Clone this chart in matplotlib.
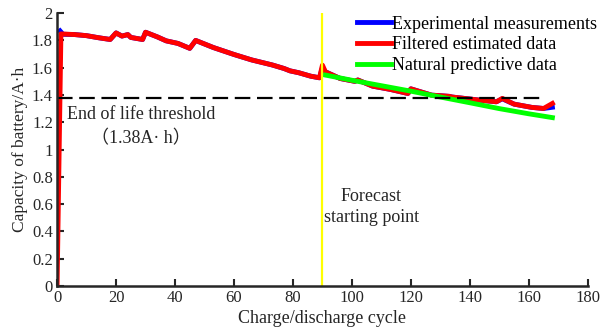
import matplotlib
matplotlib.use("Agg")
import matplotlib.pyplot as plt

plt.rcParams['font.family'] = ['Liberation Serif', 'Noto Sans CJK SC', 'DejaVu Sans']
plt.rcParams['font.size'] = 13

# values
cycles = [1, 2, 6, 10, 14, 18, 20, 22, 24, 25, 29, 30, 34, 37, 41, 45, 47, 53, 60, 66,
          73, 77, 79, 82, 86, 89, 90, 91, 96, 101, 102, 107, 113, 119, 120, 127, 133, 134,
          143, 149, 151, 155, 161, 165, 168]
measured = [1.87, 1.845, 1.843, 1.835, 1.82, 1.807, 1.855, 1.832, 1.843, 1.822, 1.807, 1.86,
            1.826, 1.797, 1.778, 1.742, 1.80, 1.748, 1.697, 1.657, 1.62, 1.594, 1.577, 1.563,
            1.538, 1.526, 1.60, 1.57, 1.521, 1.50, 1.51, 1.465, 1.441, 1.411, 1.445, 1.399,
            1.39, 1.385, 1.363, 1.35, 1.372, 1.333, 1.309, 1.301, 1.31]
filt_cycles = [0, 1.3, 6, 10, 14, 18, 20, 22, 24, 25, 29, 30, 34, 37, 41, 45, 47, 53, 60, 66,
               73, 77, 79, 82, 86, 89, 90, 91, 96, 101, 102, 107, 113, 119, 120, 127, 133, 134,
               143, 149, 151, 155, 161, 165, 168]
filtered = [0.0, 1.848, 1.843, 1.835, 1.82, 1.807, 1.855, 1.832, 1.843, 1.822, 1.807, 1.86,
            1.826, 1.797, 1.778, 1.742, 1.80, 1.748, 1.697, 1.657, 1.62, 1.594, 1.577, 1.563,
            1.538, 1.526, 1.619, 1.57, 1.521, 1.50, 1.51, 1.465, 1.441, 1.411, 1.445, 1.399,
            1.39, 1.385, 1.363, 1.35, 1.375, 1.333, 1.309, 1.301, 1.338]
pred_cycles = [91, 100, 110, 120, 130, 140, 150, 160, 168]
predicted = [1.546, 1.508, 1.468, 1.428, 1.385, 1.343, 1.30, 1.262, 1.234]
threshold = 1.38
threshold_end = 165
forecast_start = 90

fig = plt.figure(figsize=(6.01, 3.29), dpi=100)
ax = fig.add_axes([0.095, 0.131, 0.883, 0.829])

ax.plot(cycles, measured, color='#0000ff', lw=3.5, label='Experimental measurements')
ax.plot(filt_cycles, filtered, color='#ff0000', lw=3.5, label='Filtered estimated data')
ax.plot(pred_cycles, predicted, color='#00ff00', lw=3.5, label='Natural predictive data')
ax.hlines(threshold, 0, threshold_end, colors='k', lw=1.6, linestyles=(0, (7, 3)))
ax.axvline(forecast_start, color='#ffff00', lw=1.6)

ax.text(28.5, 1.255, 'End of life threshold', ha='center', va='center', color='#262626')
ax.text(28.5, 1.08, '（1.38A· h）', ha='center', va='center', color='#262626')
ax.text(106.5, 0.58, 'Forecast\nstarting point', ha='center', va='center',
        color='#262626', linespacing=1.3)

ax.set_xlim(0, 180)
ax.set_ylim(0, 2)
ax.set_xticks(range(0, 181, 20))
ax.set_yticks([0, 0.2, 0.4, 0.6, 0.8, 1, 1.2, 1.4, 1.6, 1.8, 2])
ax.set_yticklabels(['0', '0.2', '0.4', '0.6', '0.8', '1', '1.2', '1.4', '1.6', '1.8', '2'])
ax.tick_params(direction='in', length=5, width=1.5, colors='#262626', labelsize=12, pad=3)
for s in ['top', 'right']:
    ax.spines[s].set_visible(False)
for s in ['left', 'bottom']:
    ax.spines[s].set_linewidth(1.8)
    ax.spines[s].set_color('#262626')

ax.set_xlabel('Charge/discharge cycle', labelpad=3, color='#262626')
ax.set_ylabel('Capacity of battery/A·h', fontsize=12.5, labelpad=3, color='#262626')

ax.legend(loc='upper right', bbox_to_anchor=(0.997, 0.958), bbox_transform=fig.transFigure,
          frameon=False, handlelength=1.9, handletextpad=0.05, labelspacing=0.2,
          borderaxespad=0.0, borderpad=0.1, fontsize=13)

fig.savefig('out.png', dpi=100)
